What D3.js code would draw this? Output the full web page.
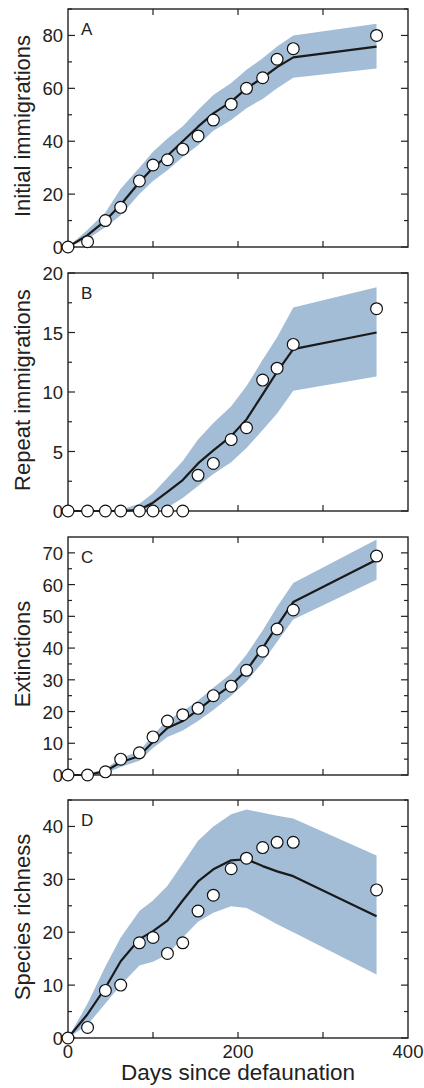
<!DOCTYPE html>
<html>
<head>
<meta charset="utf-8">
<script src="https://cdn.jsdelivr.net/npm/d3@7"></script>
<style>
  body { margin: 0; background: #fff; }
  svg { display: block; font-family: "Liberation Sans", Arial, Helvetica, sans-serif; }
</style>
</head>
<body>
<svg width="424" height="1088"></svg>
<script>
// days of each census
var days = [0, 23, 44, 62, 84, 100, 117, 135, 153, 171, 192, 210, 229, 246, 265, 363]

// A: initial immigrations
var obsA = [0, 2, 10, 15, 25, 31, 33, 37, 42, 48, 54, 60, 64, 71, 75, 80]
var fitA = [0, 4.5, 10, 16, 24.5, 30, 34.5, 40, 45.5, 50.5, 55, 60, 64, 68, 71.7, 75.8]
var hiA  = [0, 6.5, 13, 22, 30, 36, 41, 45.7, 51.8, 57.5, 62, 67, 71.4, 75.8, 80, 84.4]
var loA  = [0, 3, 7.5, 12, 20, 25, 29, 34, 38.5, 44, 48, 52.5, 56, 60, 64, 67.5]

// B: repeat immigrations
var obsB = [0, 0, 0, 0, 0, 0, 0, 0, 3, 4, 6, 7, 11, 12, 14, 17]
var fitB = [0, 0, 0, 0, 0.1, 0.7, 1.6, 2.6, 4.0, 5.1, 6.3, 7.7, 9.8, 11.7, 13.6, 15.0]
var hiB  = [0, 0, 0, 0.1, 0.6, 1.5, 2.8, 4.2, 6.0, 7.4, 8.8, 10.5, 12.7, 14.6, 17.1, 18.8]
var loB  = [0, 0, 0, 0, 0, 0, 0.3, 1.1, 2.1, 3.1, 4.1, 5.3, 6.8, 8.2, 10.1, 11.3]

// C: extinctions
var obsC = [0, 0, 1, 5, 7, 12, 17, 19, 21, 25, 28, 33, 39, 46, 52, 69]
var fitC = [0, 0, 1.2, 4, 6, 10.5, 14.8, 17, 20.5, 24.3, 28.3, 33, 40, 47, 54.5, 67.8]
var hiC  = [0, 0.3, 2, 5.3, 7.6, 12.5, 17.3, 20, 23.5, 27.5, 32, 38, 45.5, 53, 60.5, 74.2]
var loC  = [0, 0, 0.5, 2.5, 4.5, 8.5, 12, 14, 17, 20.5, 25, 29.5, 35.5, 42, 49, 61.5]

// D: species richness
var obsD = [0, 2, 9, 10, 18, 19, 16, 18, 24, 27, 32, 34, 36, 37, 37, 28]
var fitD = [0, 4.5, 9.5, 14.5, 18.7, 20.2, 22.2, 26, 29.6, 31.9, 33.6, 33.8, 32.5, 31.5, 30.6, 23]
var hiD  = [0, 6.5, 13.5, 19, 24, 26, 28.8, 33, 37.3, 40, 42.3, 43.2, 42.6, 42, 41.5, 34.5]
var loD  = [0, 2.5, 6.5, 10, 13.7, 14.4, 15.8, 19, 22, 23.7, 24.9, 24.6, 23, 21.5, 20, 12]

var panels = [
  {letter: 'A', title: 'Initial immigrations', max: 90, major: [0,20,40,60,80], minor: [10,30,50,70,90], obs: obsA, fit: fitA, hi: hiA, lo: loA},
  {letter: 'B', title: 'Repeat immigrations', max: 20, major: [0,5,10,15,20], minor: [2.5,7.5,12.5,17.5], obs: obsB, fit: fitB, hi: hiB, lo: loB},
  {letter: 'C', title: 'Extinctions', max: 75, major: [0,10,20,30,40,50,60,70], minor: [5,15,25,35,45,55,65], obs: obsC, fit: fitC, hi: hiC, lo: loC},
  {letter: 'D', title: 'Species richness', max: 45, major: [0,10,20,30,40], minor: [5,15,25,35,45], obs: obsD, fit: fitD, hi: hiD, lo: loD}
]
var panelTops = [9, 273, 537, 800]
var xTicks = [0, 100, 200, 300, 400]
var xLabels = [0, 200, 400]

var svg = d3.select('svg')
var left = 68, right = 408, h = 238

var x = d3.scaleLinear().domain([0, 400]).range([left, right])

panels.forEach(function(p, k){
  var top = panelTops[k]
  var y = d3.scaleLinear().domain([0, p.max]).range([top + h, top])
  var g = svg.append('g')
  var clipId = 'clip' + k
  g.append('clipPath').attr('id', clipId)
    .append('rect').attr('x', left).attr('y', top).attr('width', right - left).attr('height', h)

  var rows = days.map(function(d, i){ return {d: d, o: p.obs[i], f: p.fit[i], hi: p.hi[i], lo: p.lo[i]} })

  // band
  g.append('path')
    .datum(rows)
    .attr('clip-path', 'url(#' + clipId + ')')
    .attr('fill', '#a3bdd7')
    .attr('d', d3.area().x(function(r){ return x(r.d) }).y0(function(r){ return y(r.lo) }).y1(function(r){ return y(r.hi) }))

  // fit line
  g.append('path')
    .datum(rows)
    .attr('fill', 'none')
    .attr('stroke', '#1a1a1a')
    .attr('stroke-width', 2.2)
    .attr('stroke-linejoin', 'round')
    .attr('d', d3.line().x(function(r){ return x(r.d) }).y(function(r){ return y(r.f) }))

  // ticks inward on all sides
  var tk = g.append('g').attr('stroke', '#222').attr('stroke-width', 1.2)
  p.major.forEach(function(v){
    tk.append('line').attr('x1', left).attr('x2', left + 7).attr('y1', y(v)).attr('y2', y(v))
    tk.append('line').attr('x1', right).attr('x2', right - 7).attr('y1', y(v)).attr('y2', y(v))
  })
  p.minor.forEach(function(v){
    tk.append('line').attr('x1', left).attr('x2', left + 4).attr('y1', y(v)).attr('y2', y(v))
    tk.append('line').attr('x1', right).attr('x2', right - 4).attr('y1', y(v)).attr('y2', y(v))
  })
  xTicks.slice(1, -1).forEach(function(v){
    tk.append('line').attr('x1', x(v)).attr('x2', x(v)).attr('y1', top + h).attr('y2', top + h - 6)
    tk.append('line').attr('x1', x(v)).attr('x2', x(v)).attr('y1', top).attr('y2', top + 6)
  })

  // frame
  g.append('rect')
    .attr('x', left).attr('y', top).attr('width', right - left).attr('height', h)
    .attr('fill', 'none').attr('stroke', '#222').attr('stroke-width', 1.4)

  // y labels
  g.selectAll('text.yl').data(p.major).enter().append('text')
    .attr('x', left - 5).attr('y', function(v){ return y(v) + 7 })
    .attr('text-anchor', 'end').attr('font-size', 18.5).attr('fill', '#222')
    .text(function(v){ return v })

  g.append('text')
    .attr('transform', 'translate(29.5,' + (top + h / 2 - 2) + ') rotate(-90)')
    .attr('text-anchor', 'middle').attr('font-size', 22).attr('fill', '#222')
    .text(p.title)

  g.append('text')
    .attr('x', left + 13).attr('y', top + 26)
    .attr('font-size', 17).attr('fill', '#222')
    .text(p.letter)

  // observed points
  g.selectAll('circle').data(rows).enter().append('circle')
    .attr('cx', function(r){ return x(r.d) })
    .attr('cy', function(r){ return y(r.o) })
    .attr('r', 5.9)
    .attr('fill', '#fff').attr('stroke', '#111').attr('stroke-width', 1.2)

  if (k === 3) {
    g.selectAll('text.xl').data(xLabels).enter().append('text')
      .attr('x', function(v){ return x(v) }).attr('y', top + h + 20)
      .attr('text-anchor', 'middle').attr('font-size', 18.5).attr('fill', '#222')
      .text(function(v){ return v })
    g.append('text')
      .attr('x', (left + right) / 2).attr('y', top + h + 42)
      .attr('text-anchor', 'middle').attr('font-size', 22.5).attr('fill', '#222')
      .text('Days since defaunation')
  }
})
</script>
</body>
</html>
